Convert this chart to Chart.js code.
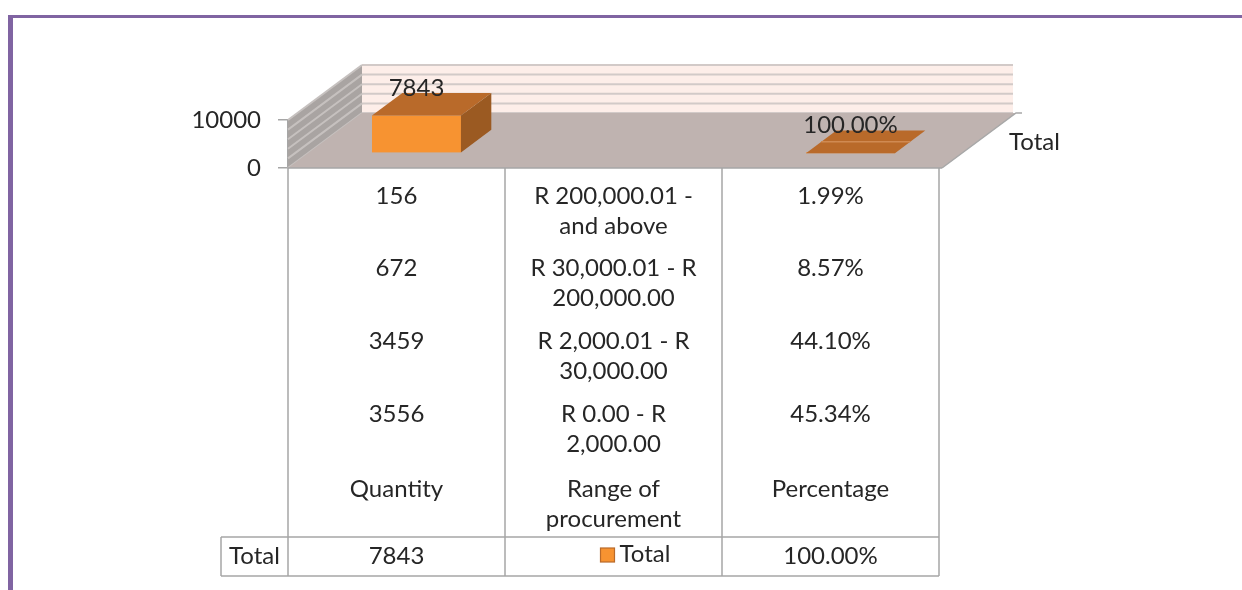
<!DOCTYPE html>
<html><head><meta charset="utf-8">
<script src="https://cdn.jsdelivr.net/npm/chart.js@4.4.0/dist/chart.umd.min.js"></script>
<style>html,body{margin:0;padding:0;background:#fff;overflow:hidden}canvas{display:block}</style>
</head><body>
<canvas id="c" width="1242" height="590"></canvas>
<script>
// ---- data ----
const categories = ["Quantity", "Range of procurement", "Percentage"];
const categoryLines = [["Quantity"], ["Range of", "procurement"], ["Percentage"]];
const seriesName = "Total";
const totalValues = [7843, null, 1];
const totalLabels = ["7843", "", "100.00%"];
const quantities = ["156", "672", "3459", "3556"];
const ranges = [["R 200,000.01 -", "and above"], ["R 30,000.01 - R", "200,000.00"], ["R 2,000.01 - R", "30,000.00"], ["R 0.00 - R", "2,000.00"]];
const percentages = ["1.99%", "8.57%", "44.10%", "45.34%"];
const gridValues = [0, 2000, 4000, 6000, 8000, 10000];
const yMax = 10000;

const FONT = '24px Lato';
const TEXT = '#262626';
const LINE = '#A6A6A6';
const DEPTH = {dx: 74, dy: -55};

const scene3d = {
  id: 'scene3d',
  beforeDraw(chart) {
    const ctx = chart.ctx;
    ctx.save();
    ctx.fillStyle = '#fff';
    ctx.fillRect(0, 0, chart.width, chart.height);
    ctx.fillStyle = '#8064A2';
    ctx.fillRect(8, 15, 1234, 3);
    ctx.fillRect(8, 15, 5, 575);
    ctx.restore();
  },
  beforeDatasetsDraw(chart) {
    const ctx = chart.ctx, ys = chart.scales.y;
    const {left, right} = chart.chartArea;
    const top = ys.getPixelForValue(yMax), bottom = ys.getPixelForValue(0);
    const {dx, dy} = DEPTH;
    ctx.save();
    ctx.fillStyle = '#A9A4A2';
    ctx.beginPath();
    ctx.moveTo(left, top); ctx.lineTo(left + dx, top + dy);
    ctx.lineTo(left + dx, bottom + dy); ctx.lineTo(left, bottom); ctx.closePath(); ctx.fill();
    ctx.fillStyle = '#FDEEE9';
    ctx.fillRect(left + dx, top + dy, right - left, bottom - top);
    ctx.lineWidth = 2;
    gridValues.forEach(v => {
      const py = ys.getPixelForValue(v);
      ctx.strokeStyle = '#D2CAC8';
      ctx.beginPath(); ctx.moveTo(left + dx, py + dy); ctx.lineTo(right + dx, py + dy); ctx.stroke();
      ctx.strokeStyle = '#C6C1BF';
      ctx.beginPath(); ctx.moveTo(left, py); ctx.lineTo(left + dx, py + dy); ctx.stroke();
    });
    ctx.fillStyle = '#BFB3B0';
    ctx.beginPath();
    ctx.moveTo(left, bottom); ctx.lineTo(right + 3, bottom);
    ctx.lineTo(right + 3 + dx, bottom + dy); ctx.lineTo(left + dx, bottom + dy); ctx.closePath(); ctx.fill();
    ctx.strokeStyle = '#A8A8A8'; ctx.lineWidth = 1.5;
    ctx.beginPath(); ctx.moveTo(right + 3, bottom); ctx.lineTo(right + 3 + dx, bottom + dy); ctx.lineTo(right + 3 + dx + 6, bottom + dy); ctx.stroke();
    ctx.restore();
  },
  afterDatasetsDraw(chart) {
    const ctx = chart.ctx;
    const meta = chart.getDatasetMeta(0);
    const {dx, dy} = DEPTH;
    const f0 = 0.27, f1 = 0.41;
    const ox = dx * f0, oy = dy * f0, bx = dx * f1, by = dy * f1;
    ctx.save();
    meta.data.forEach((el, i) => {
      if (totalValues[i] === null) return;
      const w = el.width;
      const x0 = el.x - w / 2 + ox, x1 = el.x + w / 2 + ox;
      const yT = el.y + oy, yB = el.base + oy;
      ctx.fillStyle = '#F79331';
      ctx.fillRect(x0, yT, x1 - x0, yB - yT);
      ctx.fillStyle = '#B96A2A';
      ctx.beginPath();
      ctx.moveTo(x0, yT); ctx.lineTo(x1, yT); ctx.lineTo(x1 + bx, yT + by); ctx.lineTo(x0 + bx, yT + by); ctx.closePath(); ctx.fill();
      if (yB - yT > 2) {
        ctx.fillStyle = '#9B5A22';
        ctx.beginPath();
        ctx.moveTo(x1, yT); ctx.lineTo(x1 + bx, yT + by); ctx.lineTo(x1 + bx, yB + by); ctx.lineTo(x1, yB); ctx.closePath(); ctx.fill();
      } else {
        ctx.strokeStyle = '#D08A52'; ctx.lineWidth = 1.5;
        ctx.beginPath(); ctx.moveTo(x0 + bx / 2, yT + by / 2); ctx.lineTo(x1 + bx / 2, yT + by / 2); ctx.stroke();
      }
      ctx.fillStyle = TEXT; ctx.font = FONT; ctx.textAlign = 'center'; ctx.textBaseline = 'middle';
      ctx.fillText(totalLabels[i], (x0 + x1) / 2, yT + by - 5);
    });
    ctx.restore();
  },
  afterDraw(chart) {
    const ctx = chart.ctx, xs = chart.scales.x;
    const {left, right, bottom} = chart.chartArea;
    const {dx, dy} = DEPTH;
    const centers = categories.map((c, i) => xs.getPixelForValue(i));
    const half = (centers[1] - centers[0]) / 2;
    const bounds = [left, centers[0] + half, centers[1] + half, right];
    const tableBottom = 576, totalTop = 537, labelLeft = 221;
    ctx.save();
    ctx.strokeStyle = LINE; ctx.lineWidth = 1.5;
    ctx.beginPath();
    bounds.forEach(bx => { ctx.moveTo(bx, bottom); ctx.lineTo(bx, tableBottom); });
    ctx.moveTo(left, bottom); ctx.lineTo(right + 3, bottom);
    ctx.moveTo(labelLeft, totalTop); ctx.lineTo(right, totalTop);
    ctx.moveTo(labelLeft, tableBottom); ctx.lineTo(right, tableBottom);
    ctx.moveTo(labelLeft, totalTop); ctx.lineTo(labelLeft, tableBottom);
    ctx.stroke();

    ctx.fillStyle = TEXT; ctx.font = FONT; ctx.textAlign = 'center'; ctx.textBaseline = 'middle';
    const rowY = [196, 268, 341, 414];
    const lh = 30;
    quantities.forEach((q, r) => {
      ctx.fillText(q, centers[0], rowY[r]);
      ranges[r].forEach((t, k) => ctx.fillText(t, centers[1], rowY[r] + k * lh));
      ctx.fillText(percentages[r], centers[2], rowY[r]);
    });
    const headY = 489;
    categoryLines.forEach((lines, i) => lines.forEach((t, k) => ctx.fillText(t, centers[i], headY + k * lh)));
    const ty = 556;
    ctx.fillText(seriesName, (labelLeft + left) / 2, ty);
    ctx.fillText(totalLabels[0], centers[0], ty);
    ctx.fillText(totalLabels[2], centers[2], ty);
    ctx.fillStyle = '#F79331'; ctx.fillRect(centers[1] - 13, ty - 8, 14, 14);
    ctx.strokeStyle = '#B96A2A'; ctx.lineWidth = 1.2; ctx.strokeRect(centers[1] - 13, ty - 8, 14, 14);
    ctx.fillStyle = TEXT; ctx.textAlign = 'left';
    ctx.fillText(seriesName, centers[1] + 6, ty - 2);
    ctx.fillText(seriesName, right + 3 + dx / 2 + 30, bottom + dy / 2 + 2);
    ctx.restore();
  }
};

new Chart(document.getElementById('c'), {
  type: 'bar',
  data: {
    labels: categories,
    datasets: [{
      label: seriesName,
      data: totalValues,
      backgroundColor: 'rgba(0,0,0,0)',
      borderWidth: 0,
      categoryPercentage: 1,
      barPercentage: 0.41
    }]
  },
  options: {
    responsive: false,
    animation: false,
    devicePixelRatio: 1,
    layout: {padding: {top: 120, bottom: 422, left: 0, right: 303}},
    plugins: {legend: {display: false}, tooltip: {enabled: false}},
    scales: {
      x: {display: false},
      y: {
        min: 0, max: yMax,
        afterFit: s => { s.width = 288; },
        ticks: {stepSize: 10000, font: {family: 'Lato', size: 24}, color: TEXT, padding: 17, callback: v => String(v)},
        grid: {drawOnChartArea: false, drawTicks: true, tickLength: 10, color: LINE, lineWidth: 1.5},
        border: {display: true, color: LINE, width: 1.5}
      }
    }
  },
  plugins: [scene3d]
});
</script>
</body></html>
